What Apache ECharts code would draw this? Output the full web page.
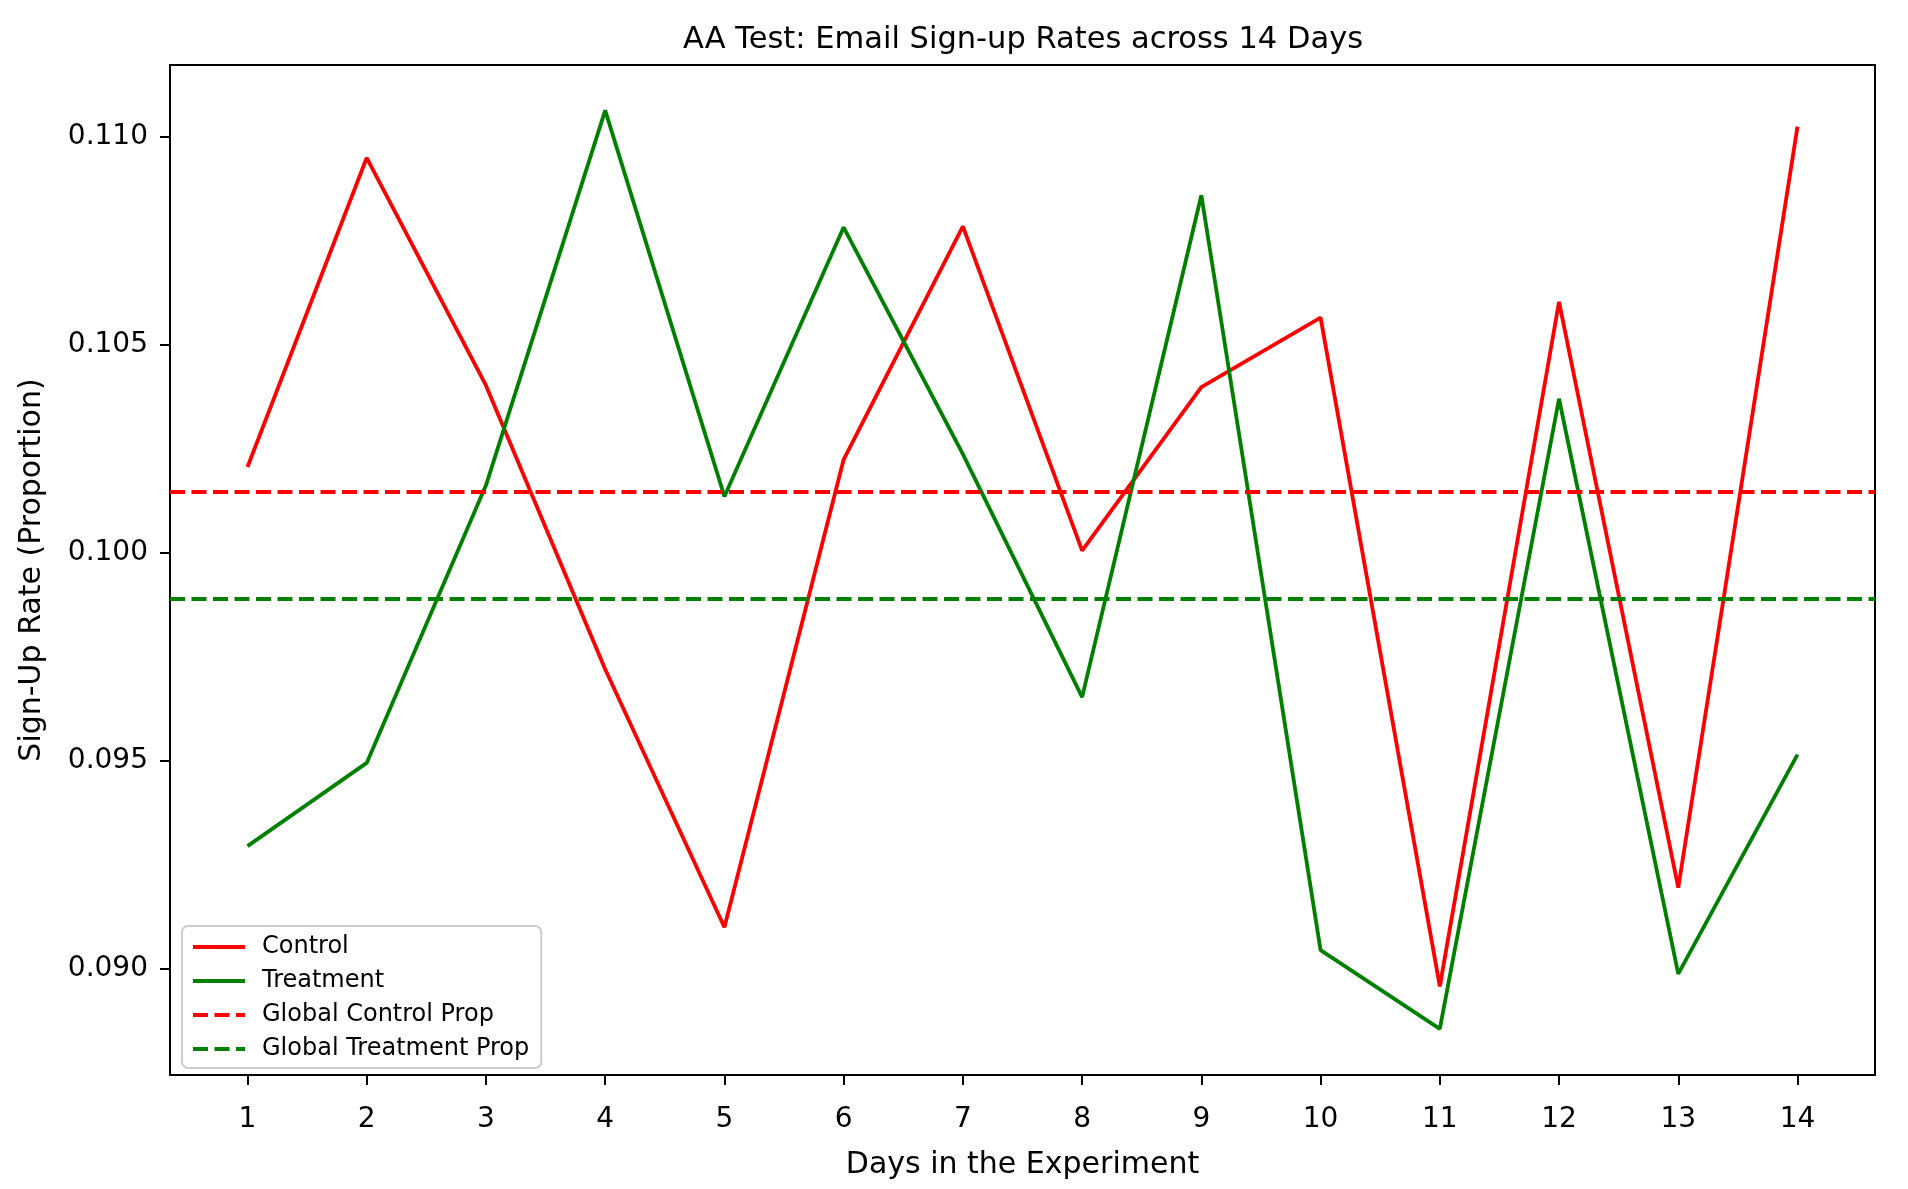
<!DOCTYPE html>
<html>
<head>
<meta charset="utf-8">
<script src="https://cdn.jsdelivr.net/npm/echarts@6/dist/echarts.min.js"></script>
<style>
html,body{margin:0;padding:0;background:#fff;}
#chart{width:1908px;height:1189px;}
</style>
</head>
<body>
<div id="chart"></div>
<script>
const days = [1,2,3,4,5,6,7,8,9,10,11,12,13,14];
const controlRates = [0.10206, 0.10949, 0.10402, 0.09720, 0.09100, 0.10224, 0.10784, 0.10005, 0.10398, 0.10565, 0.08958, 0.10603, 0.09195, 0.11024];
const treatmentRates = [0.09295, 0.09495, 0.10162, 0.11063, 0.10135, 0.10782, 0.10237, 0.09653, 0.10859, 0.09045, 0.08856, 0.10370, 0.08988, 0.09515];
const globalControlProp = 0.10146;
const globalTreatmentProp = 0.09889;
const yTicks = [0.090, 0.095, 0.100, 0.105, 0.110];
const xTicks = days;
const xRange = [0.35, 14.65];
const yRange = [0.08745, 0.11172];

const FONT = 'DejaVu Sans';
const chart = echarts.init(document.getElementById('chart'), null, {renderer:'canvas'});

function pairs(xs, ys){ return xs.map((x,i)=>[x, ys[i]]); }
function hline(v){ return [[xRange[0], v], [xRange[1], v]]; }

const dash = [15, 6.5];
const option = {
  animation: false,
  backgroundColor: '#ffffff',
  textStyle: {fontFamily: FONT},
  title: {
    text: 'AA Test: Email Sign-up Rates across 14 Days',
    left: 1018,
    textAlign: 'center',
    top: 20,
    textStyle: {fontFamily: FONT, fontSize: 30.5, fontWeight: 'normal', color: '#000'}
  },
  grid: {
    left: 170, right: 33, top: 65, bottom: 114,
    show: true, borderColor: '#000', borderWidth: 2, backgroundColor: 'transparent'
  },
  legend: {
    orient: 'vertical',
    left: 182, top: 926,
    itemWidth: 52, itemHeight: 14, itemGap: 10,
    padding: [9, 12, 7, 9],
    backgroundColor: 'rgba(255,255,255,0.8)',
    borderColor: '#cccccc', borderWidth: 2, borderRadius: 6,
    itemStyle: {color: 'transparent', borderColor: 'transparent', borderWidth: 0, opacity: 0},
    lineStyle: {width: 4},
    textStyle: {fontFamily: FONT, fontSize: 24, color: '#000', padding: [0,0,0,12]},
    data: ['Control', 'Treatment', 'Global Control Prop', 'Global Treatment Prop']
  },
  xAxis: {
    type: 'value', min: xRange[0], max: xRange[1],
    name: 'Days in the Experiment', nameLocation: 'middle', nameGap: 75,
    nameTextStyle: {fontFamily: FONT, fontSize: 30, color: '#000'},
    axisLine: {show: true, onZero: false, lineStyle: {color: '#000', width: 2}},
    axisTick: {show: true, length: 10, lineStyle: {color: '#000', width: 2}, customValues: xTicks},
    axisLabel: {fontFamily: FONT, fontSize: 28, color: '#000', margin: 31, customValues: xTicks,
      formatter: v => String(v)},
    splitLine: {show: false}
  },
  yAxis: {
    type: 'value', min: yRange[0], max: yRange[1],
    name: 'Sign-Up Rate (Proportion)', nameLocation: 'middle', nameGap: 123,
    nameTextStyle: {fontFamily: FONT, fontSize: 30, color: '#000'},
    axisLine: {show: true, onZero: false, lineStyle: {color: '#000', width: 2}},
    axisTick: {show: true, length: 10, lineStyle: {color: '#000', width: 2}, customValues: yTicks},
    axisLabel: {fontFamily: FONT, fontSize: 28, color: '#000', margin: 22, customValues: yTicks,
      formatter: v => v.toFixed(3)},
    splitLine: {show: false}
  },
  series: [
    {name: 'Control', type: 'line', data: pairs(days, controlRates), symbol: 'none',
     lineStyle: {color: '#ff0000', width: 3.8}, itemStyle: {color: '#ff0000'}},
    {name: 'Treatment', type: 'line', data: pairs(days, treatmentRates), symbol: 'none',
     lineStyle: {color: '#008000', width: 3.8}, itemStyle: {color: '#008000'}},
    {name: 'Global Control Prop', type: 'line', data: hline(globalControlProp), symbol: 'none',
     lineStyle: {color: '#ff0000', width: 4, type: dash}, itemStyle: {color: '#ff0000'}},
    {name: 'Global Treatment Prop', type: 'line', data: hline(globalTreatmentProp), symbol: 'none',
     lineStyle: {color: '#008000', width: 4, type: dash}, itemStyle: {color: '#008000'}}
  ]
};
chart.setOption(option);
</script>
</body>
</html>
